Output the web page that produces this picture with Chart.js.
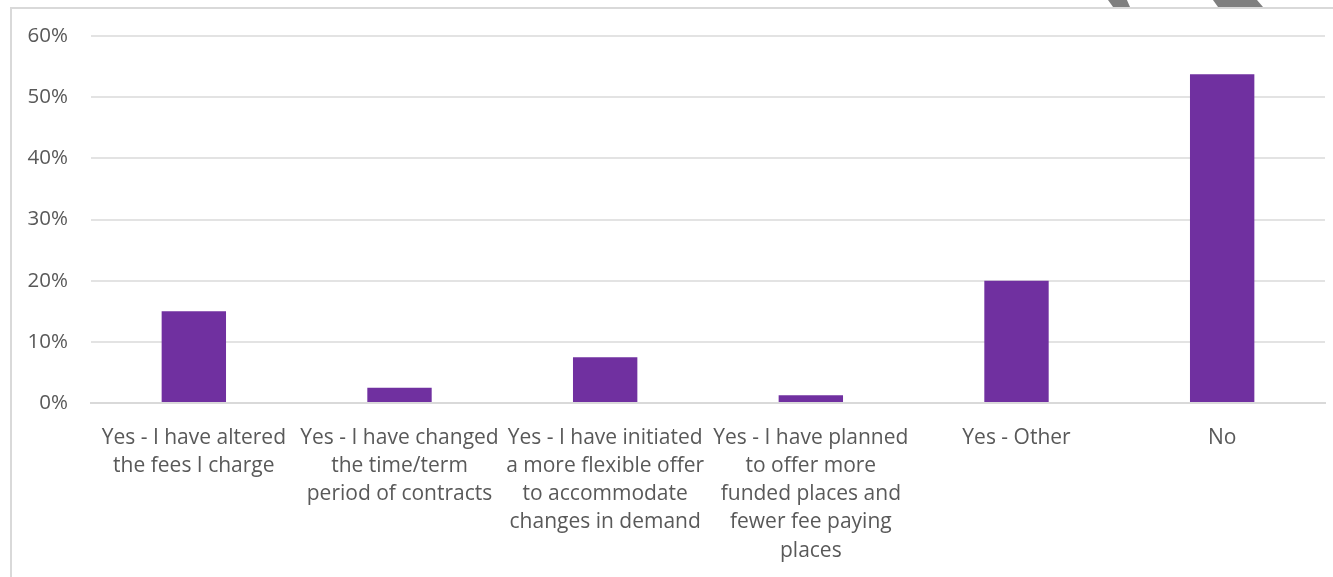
<!DOCTYPE html>
<html>
<head>
<meta charset="utf-8">
<script src="https://cdn.jsdelivr.net/npm/chart.js@4"></script>
<style>
  html, body { margin: 0; padding: 0; background: #fff; overflow: hidden; }
  #wrap { position: relative; width: 1333px; height: 577px; }
  #frame { position: absolute; left: 10px; top: 7px; width: 1400px; height: 620px;
           border: 2px solid #d9d9d9; box-sizing: border-box; pointer-events: none; }
  .chev { position: absolute; top: 0; height: 7px; background: #7f7f7f; }
  #chev1 { left: 1108px; width: 22px; clip-path: polygon(0 0, 86% 0, 100% 100%, 23% 100%); }
  #chev2 { left: 1213px; width: 50px; clip-path: polygon(0 0, 88% 0, 100% 100%, 10% 100%); }
</style>
</head>
<body>
<div id="wrap">
  <canvas id="chart" width="1333" height="577"></canvas>
  <div id="frame"></div>
  <div class="chev" id="chev1"></div>
  <div class="chev" id="chev2"></div>
</div>
<script>
const categories = [
  ["Yes - I have altered", "the fees I charge"],
  ["Yes - I have changed", "the time/term", "period of contracts"],
  ["Yes - I have initiated", "a more flexible offer", "to accommodate", "changes in demand"],
  ["Yes - I have planned", "to offer more", "funded places and", "fewer fee paying", "places"],
  ["Yes - Other"],
  ["No"]
];
const shares = [15, 2.5, 7.5, 1.25, 20, 53.75];
const yTicks = [0, 10, 20, 30, 40, 50, 60];

document.addEventListener("DOMContentLoaded", () => {
    const ctx = document.getElementById("chart").getContext("2d");
    const textColor = "#595959";
    const family = "'Open Sans', sans-serif";

    new Chart(ctx, {
        type: "bar",
        data: {
            labels: categories,
            datasets: [{
                data: shares,
                backgroundColor: "#7030A0",
                borderWidth: 0,
                barPercentage: 0.313,
                categoryPercentage: 1
            }]
        },
        options: {
            responsive: false,
            animation: false,
            layout: { padding: { top: 36, right: 8, left: 0, bottom: 0 } },
            plugins: { legend: { display: false }, tooltip: { enabled: false } },
            scales: {
                x: {
                    grid: { display: false },
                    border: { display: true, color: "#d9d9d9", width: 2 },
                    ticks: {
                        color: textColor,
                        font: { family: family, size: 21, lineHeight: 1.34 },
                        maxRotation: 0, autoSkip: false, padding: 13
                    },
                    afterFit: (scale) => { scale.height = 174; }
                },
                y: {
                    min: 0,
                    max: 60,
                    afterBuildTicks: (scale) => { scale.ticks = yTicks.map(v => ({ value: v })); },
                    grid: { color: "#e3e3e3", lineWidth: 2, drawTicks: false },
                    border: { display: false },
                    ticks: {
                        color: textColor,
                        font: { family: family, size: 20.5 },
                        padding: 23,
                        callback: (v) => v + "%"
                    },
                    afterFit: (scale) => { scale.width = 91; }
                }
            }
        }
    });
});
</script>
</body>
</html>
